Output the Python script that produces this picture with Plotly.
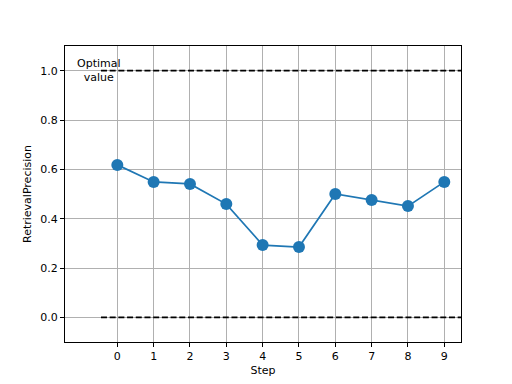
import plotly.graph_objects as go

steps = [0, 1, 2, 3, 4, 5, 6, 7, 8, 9]
precision = [0.618, 0.549, 0.541, 0.459, 0.293, 0.285, 0.500, 0.476, 0.451, 0.549]
ref_x = [-0.45, 9.6]
optimal = [1.0, 1.0]
baseline = [0.0, 0.0]
x_ticks = [0, 1, 2, 3, 4, 5, 6, 7, 8, 9]
y_ticks = [0.0, 0.2, 0.4, 0.6, 0.8, 1.0]

fig = go.Figure()
for yv in (optimal, baseline):
    fig.add_trace(go.Scatter(x=ref_x, y=yv, mode="lines",
                             line=dict(color="black", width=1.7, dash="6px,2.7px"),
                             showlegend=False, hoverinfo="skip"))
fig.add_trace(go.Scatter(x=steps, y=precision, mode="lines+markers",
                         line=dict(color="#1f77b4", width=1.7),
                         marker=dict(color="#1f77b4", size=12),
                         showlegend=False))
fig.add_annotation(x=-0.5, y=1.0, text="Optimal<br>value", showarrow=False,
                   xanchor="center", yanchor="middle",
                   font=dict(family="DejaVu Sans", size=11, color="black"))

axis_common = dict(showgrid=True, gridcolor="#b0b0b0", gridwidth=0.8,
                   showline=True, linecolor="black", linewidth=1, mirror=True,
                   ticks="outside", ticklen=4, tickcolor="black", zeroline=False,
                   automargin=False,
                   tickfont=dict(family="DejaVu Sans", size=11, color="black"))
fig.update_xaxes(range=[-1.44, 9.46], tickvals=x_ticks,
                 title=dict(text="Step", font=dict(family="DejaVu Sans", size=11, color="black"), standoff=4),
                 **axis_common)
fig.update_yaxes(range=[-0.1, 1.1], tickvals=y_ticks, tickformat=".1f",
                 title=dict(text="RetrievalPrecision", font=dict(family="DejaVu Sans", size=11, color="black"), standoff=6),
                 **axis_common)
fig.update_layout(width=512, height=384, margin=dict(l=65, r=51, t=46, b=42),
                  plot_bgcolor="white", paper_bgcolor="white")
fig.write_html("out.html", config={"displayModeBar": False},
               post_script="document.body.style.margin='0';")
